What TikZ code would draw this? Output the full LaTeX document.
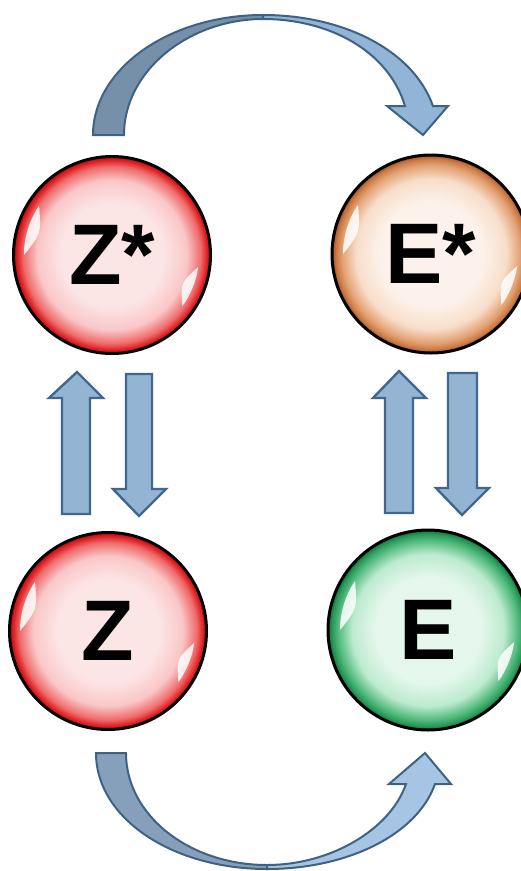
\documentclass[tikz,border=0pt]{standalone}
\usepackage{fontspec}
\setmainfont{Liberation Sans}
\usetikzlibrary{calc}

\pgfdeclareradialshading{redball}{\pgfpoint{0bp}{0bp}}{rgb(0bp)=(0.99,0.90,0.90); rgb(13bp)=(0.99,0.90,0.90); rgb(19bp)=(0.98,0.78,0.78); rgb(22.5bp)=(0.94,0.42,0.42); rgb(24bp)=(0.88,0.14,0.15); rgb(25bp)=(0.72,0.04,0.05); rgb(50bp)=(0.72,0.04,0.05)}
\pgfdeclareradialshading{peachball}{\pgfpoint{0bp}{0bp}}{rgb(0bp)=(0.99,0.95,0.92); rgb(13bp)=(0.99,0.95,0.92); rgb(19bp)=(0.97,0.87,0.79); rgb(22.5bp)=(0.89,0.63,0.45); rgb(24bp)=(0.80,0.48,0.27); rgb(25bp)=(0.62,0.33,0.16); rgb(50bp)=(0.62,0.33,0.16)}
\pgfdeclareradialshading{greenball}{\pgfpoint{0bp}{0bp}}{rgb(0bp)=(0.90,0.97,0.93); rgb(13bp)=(0.90,0.97,0.93); rgb(19bp)=(0.74,0.92,0.81); rgb(22.5bp)=(0.32,0.73,0.49); rgb(24bp)=(0.16,0.60,0.35); rgb(25bp)=(0.07,0.44,0.24); rgb(50bp)=(0.07,0.44,0.24)}

\begin{document}
\begin{tikzpicture}[x=1pt,y=-1pt]
\definecolor{arcline}{RGB}{63,98,132}
\definecolor{arcdark}{RGB}{118,144,170}
\definecolor{arclight}{RGB}{146,180,214}
\definecolor{arcdarkb}{RGB}{134,160,187}
\definecolor{arclightb}{RGB}{166,196,227}
\definecolor{barfill}{RGB}{148,180,212}
\definecolor{barline}{RGB}{66,103,143}
\tikzset{
  ball/.style={circle,draw=black,line width=3,inner sep=0,text=black,
    font=\fontsize{86}{86}\selectfont\bfseries},
  shine/.style={fill=white,opacity=0.85},
  curvearr/.style={draw=arcline,line width=2,line join=miter},
  vbar/.style={fill=barfill,draw=barline,line width=2.4,line join=miter}
}
\useasboundingbox (0,0) rectangle (521,871);
\fill[white] (0,0) rectangle (521,871);
% curved arrows
\filldraw[curvearr,fill=arcdark] (93,135) .. controls (93,69) and (169,15) .. (263,15) -- (263,19) .. controls (190,19) and (124,70) .. (124,135) -- cycle;
\filldraw[curvearr,fill=arclight] (263,15) .. controls (343,15) and (413,50) .. (433,106) -- (448,106) -- (423,135) -- (387,106) -- (405,106) .. controls (388,50) and (328,19) .. (263,19) -- cycle;
\filldraw[curvearr,fill=arcdarkb] (96,753) .. controls (96,818) and (172,869) .. (267,869) -- (267,865) .. controls (189,865) and (126,815) .. (126,753) -- cycle;
\filldraw[curvearr,fill=arclightb] (267,869) .. controls (347,869) and (417,835) .. (435,784) -- (451,784) -- (425,753) -- (389,784) -- (406,784) .. controls (390,830) and (330,865) .. (267,865) -- cycle;
% up and down arrows
\filldraw[vbar] (62,514) -- (62,398) -- (49,398) -- (77,372) -- (103,398) -- (90,398) -- (90,514) -- cycle;
\filldraw[vbar] (126,374) -- (152,374) -- (152,489) -- (166,489) -- (139,516) -- (113,489) -- (126,489) -- cycle;
\filldraw[vbar] (385,513) -- (385,398) -- (373,398) -- (399,371) -- (426,398) -- (413,398) -- (413,513) -- cycle;
\filldraw[vbar] (448,373) -- (477,373) -- (477,488) -- (489,488) -- (462,515) -- (436,488) -- (448,488) -- cycle;
% balls
\node[ball,shading=redball,minimum size=197] (zs) at (112,255) {Z*};
\node[ball,shading=peachball,minimum size=198] (es) at (431,254) {E*};
\node[ball,shading=redball,minimum size=197] (z) at (108,631) {Z};
\node[ball,shading=greenball,minimum size=200] (e) at (428,630) {E};
\foreach \b in {zs,es,z,e}{
  \fill[shine] ($(\b)+(-146:88)$) arc[start angle=-146,end angle=-180,radius=88] .. controls ($(\b)+(-163:74)$) .. ($(\b)+(-146:88)$) -- cycle;
  \fill[shine] ($(\b)+(8:87)$) arc[start angle=8,end angle=36,radius=87] .. controls ($(\b)+(22:74)$) .. ($(\b)+(8:87)$) -- cycle;
}
\end{tikzpicture}
\end{document}
